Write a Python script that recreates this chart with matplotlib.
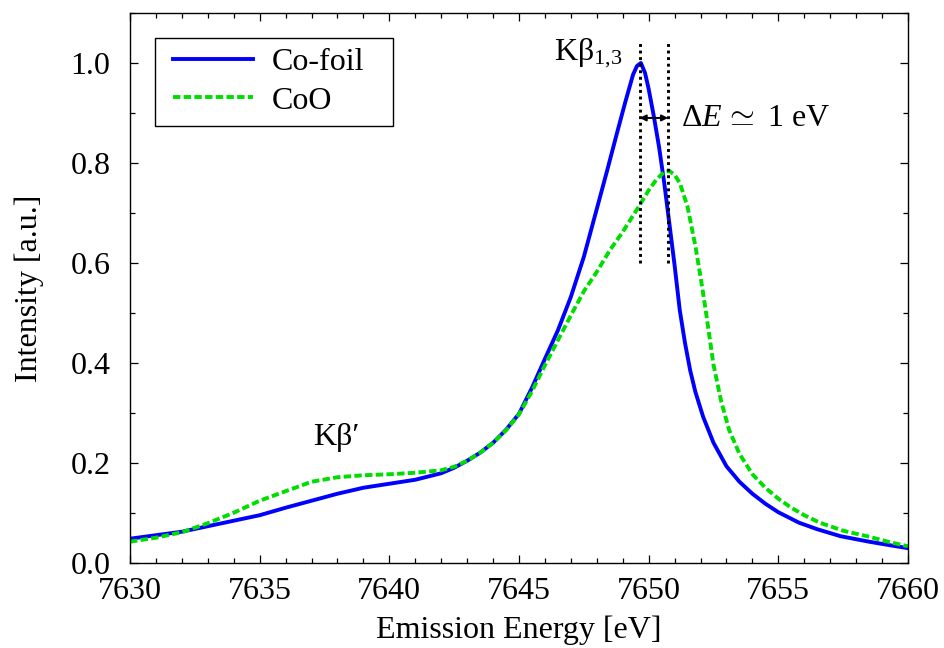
import numpy as np
import matplotlib
matplotlib.use('Agg')
import matplotlib.pyplot as plt
from matplotlib.ticker import MultipleLocator, FormatStrFormatter
from matplotlib.patches import Rectangle

# Co-foil spectrum
foil_E = [7630.0, 7631.0, 7632.0, 7633.0, 7634.0, 7635.0, 7636.0, 7637.0, 7638.0, 7639.0,
          7640.0, 7641.0, 7642.0, 7642.5, 7643.0, 7643.5, 7644.0, 7644.5, 7645.0, 7645.5,
          7646.0, 7646.5, 7647.0, 7647.5, 7648.0, 7648.4, 7648.8, 7649.1, 7649.4, 7649.55,
          7649.7, 7649.86, 7650.0, 7650.2, 7650.4, 7650.6, 7650.8, 7651.0, 7651.2, 7651.4,
          7651.6, 7651.8, 7652.1, 7652.5, 7653.0, 7653.5, 7654.0, 7654.5, 7655.0, 7655.8,
          7656.5, 7657.4, 7658.5, 7659.3, 7660.0]
foil_I = [0.048, 0.055, 0.062, 0.073, 0.084, 0.095, 0.110, 0.124, 0.138, 0.150,
          0.158, 0.166, 0.179, 0.190, 0.204, 0.220, 0.240, 0.266, 0.298, 0.350,
          0.408, 0.465, 0.532, 0.612, 0.708, 0.785, 0.864, 0.922, 0.977, 0.994,
          1.000, 0.980, 0.948, 0.893, 0.832, 0.760, 0.678, 0.595, 0.505, 0.440,
          0.385, 0.342, 0.292, 0.240, 0.193, 0.162, 0.138, 0.118, 0.101, 0.080,
          0.067, 0.053, 0.042, 0.035, 0.029]

# CoO spectrum
coo_E = [7630.0, 7631.0, 7632.0, 7633.0, 7634.0, 7635.0, 7636.0, 7637.0, 7638.0, 7639.0,
         7640.0, 7641.0, 7642.0, 7642.5, 7643.0, 7643.5, 7644.0, 7644.5, 7645.0, 7645.5,
         7646.0, 7646.5, 7647.0, 7647.5, 7648.0, 7648.5, 7649.0, 7649.5, 7650.0, 7650.3,
         7650.6, 7650.8, 7651.0, 7651.2, 7651.5, 7651.8, 7652.0, 7652.2, 7652.5, 7652.8,
         7653.1, 7653.5, 7654.0, 7654.5, 7655.0, 7655.5, 7656.0, 7656.6, 7657.5, 7658.5,
         7659.3, 7660.0]
coo_I = [0.042, 0.050, 0.061, 0.079, 0.100, 0.124, 0.143, 0.162, 0.171, 0.175,
         0.177, 0.180, 0.185, 0.192, 0.204, 0.220, 0.240, 0.265, 0.297, 0.343,
         0.395, 0.445, 0.495, 0.543, 0.582, 0.625, 0.662, 0.703, 0.745, 0.767,
         0.782, 0.784, 0.776, 0.760, 0.712, 0.634, 0.572, 0.505, 0.396, 0.322,
         0.266, 0.218, 0.177, 0.150, 0.128, 0.110, 0.095, 0.080, 0.064, 0.052,
         0.041, 0.033]

peak_foil = 7649.65
peak_coo = 7650.75

plt.rcParams['font.family'] = ['Liberation Serif', 'DejaVu Serif']
plt.rcParams['mathtext.fontset'] = 'custom'
plt.rcParams['mathtext.rm'] = 'Liberation Serif'
plt.rcParams['mathtext.it'] = 'Liberation Serif:italic'
plt.rcParams['mathtext.bf'] = 'Liberation Serif:bold'
fs = 23
plt.rcParams['font.size'] = fs

fig = plt.figure(figsize=(9.44, 6.48), dpi=100)
ax = fig.add_axes([130/944, 1 - 562.7/648, 778/944, 549.7/648])

ax.plot(foil_E, foil_I, color='#0000ff', lw=2.8, label='Co-foil')
ax.plot(coo_E, coo_I, color='#00dd00', lw=2.8, linestyle=(0, (1.9, 0.85)), label='CoO')

# peak markers
for xp in [peak_foil, peak_coo]:
    ax.plot([xp, xp], [0.6, 1.045], color='black', lw=2.1, linestyle=(0, (1, 1.25)))
ax.annotate('', xy=(peak_foil, 0.89), xytext=(peak_coo, 0.89),
            arrowprops=dict(arrowstyle='<|-|>', color='black', lw=1.4,
                            mutation_scale=9, shrinkA=0, shrinkB=0))

ax.text(7649.0, 1.005, r'K$\mathrm{\beta}_{1{,}3}$', ha='right', va='baseline', fontsize=fs)
ax.text(7651.26, 0.873, r'$\Delta E\,\simeq$ 1 eV', ha='left', va='baseline', fontsize=fs)
ax.text(7637.07, 0.235, 'Kβ′', ha='left', va='baseline', fontsize=fs)

ax.set_xlim(7630, 7660)
ax.set_ylim(0, 1.1)
ax.xaxis.set_major_locator(MultipleLocator(5))
ax.xaxis.set_minor_locator(MultipleLocator(1))
ax.yaxis.set_major_locator(MultipleLocator(0.2))
ax.yaxis.set_minor_locator(MultipleLocator(0.1))
ax.yaxis.set_major_formatter(FormatStrFormatter('%.1f'))
ax.tick_params(which='both', direction='in', top=True, right=True, width=0.9)
ax.tick_params(which='major', length=6, labelsize=fs)
ax.tick_params(which='minor', length=3.5)
ax.tick_params(axis='x', pad=10)
ax.tick_params(axis='y', pad=14)
for s in ax.spines.values():
    s.set_linewidth(1.0)

ax.set_xlabel('Emission Energy [eV]', fontsize=fs, labelpad=7)
ax.set_ylabel('Intensity [a.u.]', fontsize=fs, labelpad=19)

# legend box drawn separately so its padding matches the original
ax.add_patch(Rectangle((0.0321, 0.7944), 0.3062, 0.1606, transform=ax.transAxes,
                       facecolor='white', edgecolor='black', lw=1.0, zorder=4))
leg = ax.legend(loc='center left', bbox_to_anchor=(0.0553, 0.8754), borderaxespad=0,
                frameon=False, fontsize=fs, borderpad=0,
                handlelength=2.5, handletextpad=0.6, labelspacing=0.3)
leg.set_zorder(5)

fig.savefig('out.png', dpi=100)
